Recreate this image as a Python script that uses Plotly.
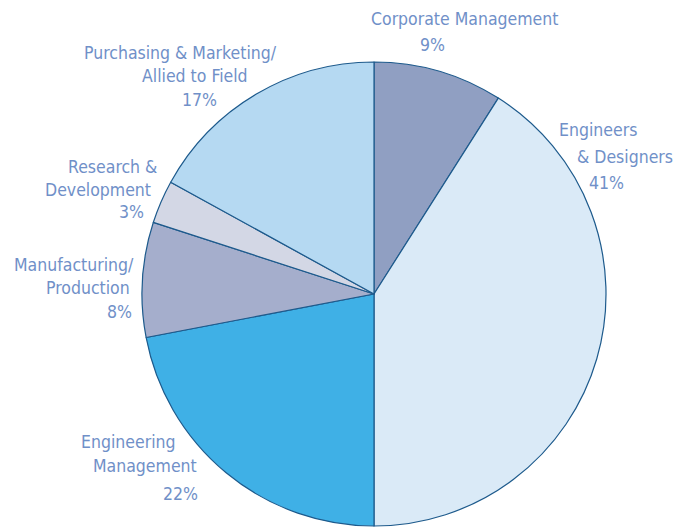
import plotly.graph_objects as go

categories = ["Corporate Management", "Engineers & Designers", "Engineering Management",
              "Manufacturing/Production", "Research & Development",
              "Purchasing & Marketing/Allied to Field"]
values = [9, 41, 22, 8, 3, 17]
label_lines = [
    ["Corporate Management"],
    ["Engineers", "& Designers"],
    ["Engineering", "Management"],
    ["Manufacturing/", "Production"],
    ["Research &", "Development"],
    ["Purchasing & Marketing/", "Allied to Field"],
]
colors = ["#909fc2", "#daeaf7", "#3fb0e6", "#a5aecc", "#d3d7e5", "#b5d9f2"]

# pixel centres of each text line (name lines then percent line)
line_pos = [
    [(464, 19), (432, 45)],
    [(598, 130), (625, 157), (606, 183)],
    [(128, 442), (145, 466), (180, 494)],
    [(74, 265), (88, 288), (119, 312)],
    [(112, 167), (98, 190), (131, 212)],
    [(180, 53), (195, 76), (199, 100)],
]

W, H = 673, 527
cx, cy, r = 374, 294, 232

fig = go.Figure(go.Pie(
    labels=categories, values=values, sort=False, direction="clockwise",
    rotation=0, textinfo="none", hoverinfo="label+percent",
    marker=dict(colors=colors, line=dict(color="#1d5a8c", width=1.2)),
    domain=dict(x=[(cx - r) / W, (cx + r) / W], y=[1 - (cy + r) / H, 1 - (cy - r) / H]),
    showlegend=False,
))

font = dict(family="DejaVu Sans Condensed, Liberation Sans Narrow, sans-serif", size=17.5, color="#7090c8")
annotations = []
for lines, v, pos in zip(label_lines, values, line_pos):
    texts = lines + [f"{v}%"]
    for t, (x, y) in zip(texts, pos):
        annotations.append(dict(text=t, x=x / W, y=1 - y / H, xref="paper", yref="paper",
                                xanchor="center", yanchor="middle", showarrow=False, font=font))

fig.update_layout(width=W, height=H, margin=dict(l=0, r=0, t=0, b=0),
                  paper_bgcolor="white", plot_bgcolor="white", annotations=annotations)
fig.write_html("out.html", config={"displayModeBar": False},
               post_script="document.body.style.margin='0';document.body.style.overflow='hidden';")
